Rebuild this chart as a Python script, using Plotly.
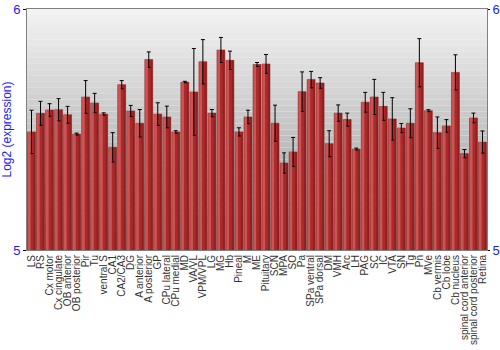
import plotly.graph_objects as go

regions = ["LS", "RS", "Cx motor", "Cx cingulate", "OB anterior", "OB posterior", "Pir", "Tu",
           "ventral S", "CA1", "CA2/CA3", "DG", "A anterior", "A posterior", "GP", "CPu lateral",
           "CPu medial", "MD", "VA/VL", "VPM/VPL", "LG", "MG", "Hb", "Pineal", "M", "ME",
           "Pituitary", "SCN", "MPA", "SO", "Pa", "SPa ventral", "SPa dorsal", "DM", "VMH", "Arc",
           "LH", "PAG", "SC", "IC", "VTA", "SN", "Tg", "Pn", "MVe", "Cb vermis", "Cb lobe",
           "Cb nucleus", "spinal cord anterior", "spinal cord posterior", "Retina"]

expression = [5.49, 5.567, 5.581, 5.582, 5.561, 5.481, 5.635, 5.61,
              5.564, 5.426, 5.686, 5.577, 5.526, 5.79, 5.564, 5.552,
              5.49, 5.697, 5.656, 5.781, 5.568, 5.83, 5.787, 5.49, 5.552, 5.77,
              5.772, 5.526, 5.361, 5.407, 5.657, 5.707, 5.693, 5.441, 5.568, 5.541,
              5.419, 5.613, 5.635, 5.596, 5.544, 5.506, 5.526, 5.777, 5.578, 5.487, 5.515,
              5.737, 5.40, 5.548, 5.448]

errors = [0.09, 0.05, 0.026, 0.046, 0.035, 0.004, 0.068, 0.04,
          0.005, 0.061, 0.017, 0.023, 0.057, 0.032, 0.047, 0.045,
          0.005, 0.003, 0.18, 0.092, 0.015, 0.052, 0.038, 0.017, 0.028, 0.008,
          0.039, 0.075, 0.042, 0.06, 0.082, 0.034, 0.022, 0.054, 0.034, 0.027,
          0.004, 0.041, 0.073, 0.058, 0.088, 0.019, 0.06, 0.1, 0.004, 0.065, 0.026,
          0.073, 0.017, 0.02, 0.046]

y_ticks = [5, 6]
y_range = [5, 6]

fig = go.Figure()
fig.add_trace(go.Bar(
    x=regions, y=expression,
    marker=dict(color="#a82a2a", line=dict(color="#8a1c1c", width=0.5)),
    width=0.88,
    error_y=dict(type="data", array=errors, color="black", thickness=1, width=2),
    hoverinfo="x+y",
))
fig.add_trace(go.Bar(
    x=regions, y=expression,
    marker=dict(color="rgba(215,100,100,0.75)", line=dict(width=0)),
    width=0.3, offset=-0.40,
    hoverinfo="skip",
))
fig.add_trace(go.Bar(
    x=regions, y=expression,
    marker=dict(color="rgba(120,20,20,0.45)", line=dict(width=0)),
    width=0.2, offset=0.22,
    hoverinfo="skip",
))
fig.add_trace(go.Scatter(x=[regions[0]], y=[5], yaxis="y2", mode="markers",
                         marker=dict(opacity=0), hoverinfo="skip", showlegend=False))

# background vertical gradient
shapes = []
n = 40
for i in range(n):
    t = i / (n - 1)
    c = int(243 - t * (243 - 150))
    shapes.append(dict(type="rect", xref="paper", yref="paper",
                       x0=0, x1=1, y0=1 - (i + 1) / n, y1=1 - i / n,
                       fillcolor=f"rgb({c},{c},{c})", line=dict(width=0), layer="below"))

fig.update_layout(
    width=500, height=350,
    margin=dict(l=27, r=13, t=9, b=100),
    paper_bgcolor="white", plot_bgcolor="rgba(0,0,0,0)",
    barmode="overlay", showlegend=False,
    shapes=shapes,
    font=dict(family="Liberation Sans, Arial, sans-serif"),
    xaxis=dict(tickangle=-90, tickfont=dict(size=10, color="#333333"),
               tickmode="linear", dtick=1, automargin=False,
               showline=True, linecolor="#808080", linewidth=1, mirror=True,
               ticks="", showgrid=False, range=[-0.5, len(regions) - 0.5]),
    yaxis=dict(range=y_range, tickvals=y_ticks, ticktext=["5", "6"],
               tickfont=dict(size=13, color="#1a1aff"), automargin=False,
               ticks="outside", ticklen=3, tickcolor="black",
               showline=True, linecolor="#808080", linewidth=1, mirror=True,
               showgrid=False, zeroline=False,
               title=dict(text="Log2 (expression)", font=dict(size=12, color="#1a1aff"))),
    yaxis2=dict(range=y_range, tickvals=y_ticks, overlaying="y", side="right",
                tickfont=dict(size=13, color="#1a1aff"), automargin=False,
                ticks="outside", ticklen=2, tickcolor="black",
                showgrid=False, zeroline=False, showline=False),
)

fig.write_html("out.html")
